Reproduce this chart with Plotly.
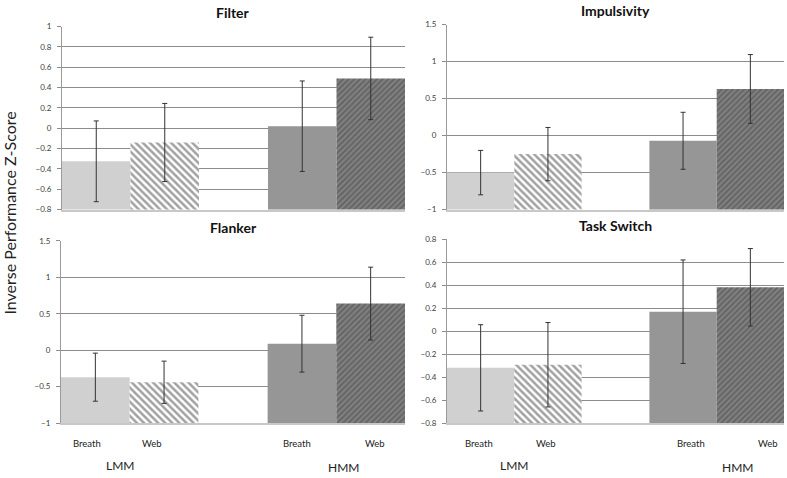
import plotly.graph_objects as go

groups = ["LMM", "HMM"]
conditions = ["Breath", "Web"]
panel_titles = ["Filter", "Impulsivity", "Flanker", "Task Switch"]

filter_breath = [-0.325, 0.02]
filter_breath_err = [0.397, 0.445]
filter_web = [-0.14, 0.49]
filter_web_err = [0.384, 0.405]

impuls_breath = [-0.50, -0.07]
impuls_breath_err = [0.30, 0.385]
impuls_web = [-0.25, 0.63]
impuls_web_err = [0.36, 0.465]

flanker_breath = [-0.37, 0.09]
flanker_breath_err = [0.33, 0.39]
flanker_web = [-0.44, 0.64]
flanker_web_err = [0.29, 0.50]

task_breath = [-0.32, 0.168]
task_breath_err = [0.375, 0.45]
task_web = [-0.293, 0.38]
task_web_err = [0.367, 0.337]

y_ranges = [[-0.8, 1.0], [-1.0, 1.5], [-1.0, 1.5], [-0.8, 0.8]]
y_dticks = [0.2, 0.5, 0.5, 0.2]

panel_data = [
    (filter_breath, filter_breath_err, filter_web, filter_web_err),
    (impuls_breath, impuls_breath_err, impuls_web, impuls_web_err),
    (flanker_breath, flanker_breath_err, flanker_web, flanker_web_err),
    (task_breath, task_breath_err, task_web, task_web_err),
]

W, H = 787, 478
BARGAP = 0.335
HALF = (1 - BARGAP) / 2  # bar groups touch the plot edges


def fx(px):
    return px / W


def fy(py):
    return 1 - py / H


# plot-area boxes in window pixels (left, right, top, bottom)
boxes = [(62, 405, 22, 209), (447, 784, 20, 209), (61, 405, 241, 427), (447, 784, 239, 427)]

FONT = "Lato, 'Open Sans', sans-serif"
fig = go.Figure()

for i, (b, be, w, we) in enumerate(panel_data):
    n = "" if i == 0 else str(i + 1)
    xa, ya = "x" + n, "y" + n
    ymin = y_ranges[i][0]
    err_style = dict(type="data", thickness=1, width=2.5, color="#333333")
    # bars rise from the bottom of the value axis (category axis crosses at the minimum)
    fig.add_trace(go.Bar(
        x=groups, y=[v - ymin for v in b], base=ymin, name=conditions[0], xaxis=xa, yaxis=ya,
        marker=dict(color=["#d0d0d0", "#969696"], line=dict(width=0)),
        error_y=dict(array=be, **err_style), showlegend=False,
    ))
    fig.add_trace(go.Bar(
        x=groups, y=[v - ymin for v in w], base=ymin, name=conditions[1], xaxis=xa, yaxis=ya,
        marker=dict(
            color=["#ffffff", "#808080"], line=dict(width=0),
            pattern=dict(shape=["\\", "/"], fgcolor=["#000000", "#000000"],
                         bgcolor=["#ffffff", "#808080"], size=[5, 4], solidity=[0.5, 0.45]),
        ),
        error_y=dict(array=we, **err_style), showlegend=False,
    ))
    l, r, t, bt = boxes[i]
    fig.layout["xaxis" + n] = dict(
        domain=[fx(l), fx(r)], anchor=ya, showticklabels=False, showgrid=False,
        range=[-HALF, len(groups) - 1 + HALF],
        showline=True, linecolor="#c8c8c8", linewidth=2, ticks="", zeroline=False,
        fixedrange=True,
    )
    fig.layout["yaxis" + n] = dict(
        domain=[fy(bt), fy(t)], anchor=xa, range=y_ranges[i], dtick=y_dticks[i],
        showgrid=True, gridcolor="#8c8c8c", gridwidth=1, zeroline=False,
        showline=True, linecolor="#9a9a9a", linewidth=1,
        ticks="outside", ticklen=4, tickcolor="#8c8c8c",
        tickfont=dict(size=8, color="#404040", family=FONT), ticklabelstandoff=4,
        fixedrange=True,
    )
    fig.add_annotation(
        text="<b>" + panel_titles[i] + "</b>", xref="paper", yref="paper",
        x=fx((l + r) / 2), y=fy(t - 14), xanchor="center", yanchor="middle",
        showarrow=False, borderpad=0, font=dict(size=14, color="#111111", family=FONT),
    )

# category labels under the bottom panels
label_specs = [
    (87, 448, "Breath", 9.5), (152, 448, "Web", 9.5), (297, 448, "Breath", 9.5), (375, 448, "Web", 9.5),
    (120, 470, "LMM", 12), (343, 472, "HMM", 12),
    (479, 448, "Breath", 9.5), (546, 448, "Web", 9.5), (691, 448, "Breath", 9.5), (768, 448, "Web", 9.5),
    (514, 470, "LMM", 12), (737, 472, "HMM", 12),
]
for px, py, txt, sz in label_specs:
    fig.add_annotation(text=txt, xref="paper", yref="paper", x=fx(px), y=fy(py),
                       xanchor="center", yanchor="middle", showarrow=False, borderpad=0,
                       font=dict(size=sz, color="#222222", family=FONT))

fig.add_annotation(text="Inverse Performance Z-Score", xref="paper", yref="paper",
                   x=fx(10), y=fy(213), xanchor="center", yanchor="middle",
                   textangle=-90, showarrow=False, borderpad=0,
                   font=dict(size=16, color="#222222", family=FONT))

fig.update_layout(
    width=W, height=H, margin=dict(l=0, r=0, t=0, b=0),
    barmode="group", bargap=BARGAP, bargroupgap=0,
    plot_bgcolor="white", paper_bgcolor="white",
)

# remove the page's default 8px body margin so the figure sits at the window's corner
fig.write_html("out.html", config={"displayModeBar": False},
               post_script="document.body.style.margin='0';")
